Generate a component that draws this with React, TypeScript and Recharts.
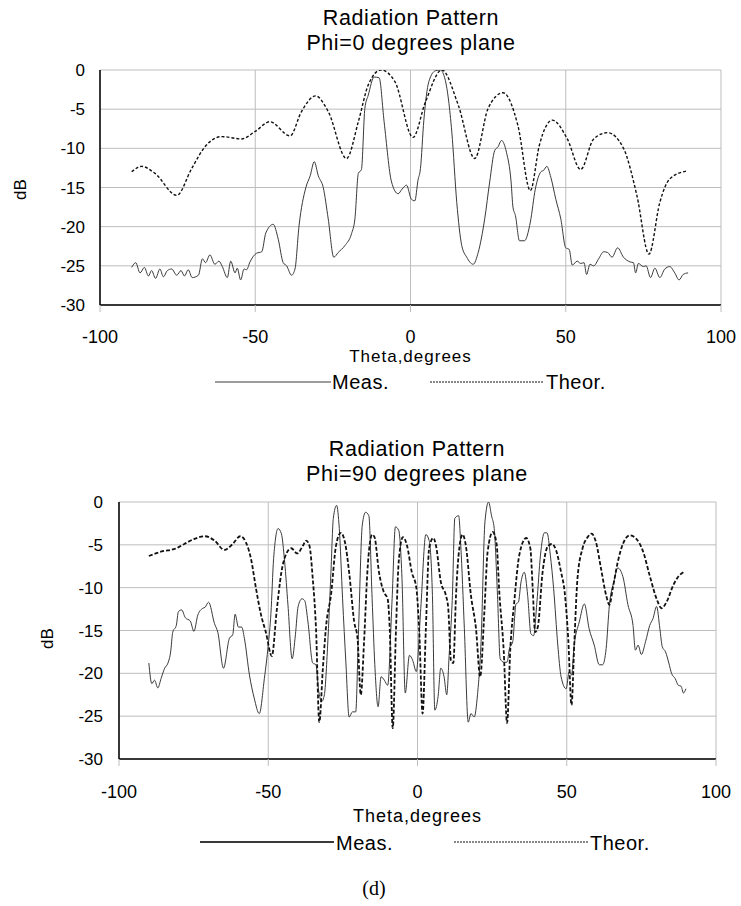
import React from 'react';
import { LineChart, Line, XAxis, YAxis, CartesianGrid, Legend } from 'recharts';

// ---------- data ----------
const xTicks = [-100, -50, 0, 50, 100];
const yTicks = [-30, -25, -20, -15, -10, -5, 0];

const title1 = ['Radiation Pattern', 'Phi=0 degrees plane'];
const title2 = ['Radiation Pattern', 'Phi=90 degrees plane'];
const xTitle = 'Theta,degrees';
const yTitle = 'dB';
const measName = 'Meas.';
const theorName = 'Theor.';
const caption = '(d)';

// Phi = 0 plane, measured
const phi0MeasTheta = [-89.8, -88.5, -87.1, -85.7, -84.4, -83.4, -82.1, -80.7, -79.6, -78.3, -76.9, -75.3, -73.9, -72.8, -71.6, -70.3, -68.3, -67.0, -66.0, -64.6, -63.0, -61.7, -60.6, -59.0, -57.9, -56.5, -55.8, -54.7, -53.6, -52.8, -51.7, -49.6, -47.9, -46.6, -44.2, -42.6, -41.0, -39.9, -38.3, -37.2, -35.9, -33.7, -32.3, -31.0, -29.7, -28.1, -26.5, -24.7, -23.3, -21.1, -19.0, -17.9, -16.8, -15.8, -14.7, -13.6, -11.7, -10.1, -8.5, -6.1, -4.0, -2.7, -1.3, 0.3, 1.4, 2.4, 3.2, 4.3, 5.9, 8.0, 9.6, 11.2, 13.3, 14.9, 16.5, 18.1, 20.2, 21.8, 23.9, 25.5, 27.1, 28.2, 29.3, 30.9, 32.4, 33.0, 33.8, 35.1, 36.7, 38.6, 40.2, 42.0, 42.9, 43.9, 45.2, 46.8, 48.4, 50.0, 51.1, 52.1, 53.7, 54.8, 55.9, 56.7, 57.8, 59.0, 60.6, 62.2, 63.5, 64.9, 66.7, 68.6, 70.7, 71.8, 72.5, 73.4, 75.0, 75.9, 77.3, 78.7, 80.3, 81.9, 83.5, 85.1, 86.5, 87.8, 89.4];
const phi0MeasDb = [-25.2, -24.6, -25.9, -25.2, -26.3, -25.6, -26.6, -25.4, -26.4, -25.6, -25.4, -26.2, -25.6, -26.3, -25.5, -26.5, -26.2, -24.1, -24.6, -23.6, -24.8, -24.4, -25.1, -26.5, -24.4, -25.9, -25.3, -26.8, -25.4, -25.5, -24.5, -23.4, -23.2, -20.8, -19.7, -21.6, -24.6, -25.0, -26.2, -25.4, -19.9, -15.0, -13.5, -11.7, -13.5, -15.0, -19.0, -23.9, -23.3, -22.4, -20.9, -19.0, -13.2, -12.7, -4.9, -3.2, -0.9, -1.0, -6.6, -14.3, -15.8, -15.2, -14.7, -16.5, -16.7, -14.1, -12.6, -6.4, -1.5, -0.1, 0, -1.3, -7.9, -16.9, -22.4, -23.9, -24.8, -23.3, -19.0, -14.3, -10.3, -9.8, -9.0, -10.5, -14.3, -17.5, -18.6, -21.8, -21.8, -19.4, -15.2, -13.0, -12.8, -12.3, -13.7, -16.5, -19.0, -22.7, -22.9, -24.9, -24.4, -24.7, -24.6, -26.1, -24.8, -25.0, -24.1, -23.2, -23.3, -23.9, -22.7, -23.9, -24.5, -24.6, -25.9, -24.7, -25.1, -25.0, -26.5, -25.3, -26.5, -25.4, -25.1, -25.9, -26.8, -26.1, -25.9];

// Phi = 0 plane, theoretical
const phi0TheorTheta = [-89.8, -86.6, -82.3, -75.3, -70.5, -66.2, -60.8, -54.4, -49.9, -45.3, -38.8, -35.1, -30.6, -26.5, -20.6, -16.8, -13.6, -9.5, -5.0, 0.8, 4.8, 10.1, 15.4, 20.7, 25.0, 29.8, 34.6, 38.6, 41.5, 45.7, 50.5, 54.8, 59.0, 63.5, 68.6, 72.9, 76.8, 80.3, 83.5, 88.8];
const phi0TheorDb = [-13.0, -12.3, -13.2, -16.0, -12.6, -9.8, -8.5, -8.8, -7.8, -6.6, -8.4, -5.3, -3.3, -5.3, -11.3, -6.6, -1.9, 0, -1.5, -8.6, -4.1, 0, -4.5, -11.3, -4.9, -2.9, -7.1, -15.4, -9.6, -6.4, -8.8, -12.7, -8.8, -8.0, -10.0, -16.0, -23.5, -16.9, -13.9, -12.9];

// Phi = 90 plane, measured
const phi90MeasTheta = [-90.0, -89.0, -88.1, -87.0, -85.9, -84.7, -83.6, -82.7, -82.0, -80.8, -80.1, -79.0, -77.8, -76.1, -74.9, -73.6, -71.9, -71.2, -70.0, -68.0, -66.9, -65.0, -63.0, -61.9, -61.1, -60.0, -58.9, -58.0, -56.3, -54.7, -53.0, -51.3, -50.0, -49.1, -48.2, -46.7, -45.6, -44.5, -43.4, -42.0, -40.9, -40.0, -38.7, -37.8, -36.7, -35.1, -34.0, -33.2, -32.1, -31.2, -30.1, -29.0, -28.2, -27.1, -26.2, -25.1, -24.0, -22.9, -21.8, -20.7, -19.8, -18.5, -17.4, -16.3, -15.2, -14.3, -13.2, -12.2, -11.1, -10.0, -8.5, -7.4, -6.3, -5.2, -4.1, -2.7, -1.6, -0.4, 1.1, 2.8, 3.9, 5.0, 5.8, 6.9, 7.8, 8.9, 9.8, 10.6, 11.7, 12.5, 13.8, 14.5, 15.7, 17.0, 17.9, 19.0, 20.1, 21.3, 22.6, 23.8, 24.8, 25.7, 26.8, 27.7, 28.9, 30.0, 30.8, 31.9, 33.0, 33.8, 34.7, 35.8, 36.9, 38.0, 38.9, 40.0, 41.2, 42.5, 43.4, 44.5, 45.6, 47.0, 48.1, 49.8, 50.8, 51.6, 52.5, 54.2, 55.9, 57.5, 59.2, 60.9, 62.0, 63.2, 64.3, 65.8, 67.1, 68.8, 70.5, 72.2, 73.0, 73.9, 75.0, 76.4, 77.8, 78.9, 80.1, 81.2, 82.0, 83.1, 84.2, 85.1, 86.3, 87.4, 88.3, 89.1, 89.9];
const phi90MeasDb = [-18.8, -21.2, -20.8, -21.7, -20.6, -19.4, -18.8, -17.5, -15.2, -14.4, -12.8, -12.6, -13.5, -13.9, -15.1, -13.2, -12.4, -12.3, -11.7, -14.2, -15.2, -19.4, -15.9, -15.5, -13.1, -14.6, -14.6, -15.9, -20.2, -22.9, -24.7, -20.6, -16.7, -13.0, -6.6, -3.1, -3.7, -7.0, -12.0, -18.3, -15.5, -12.2, -11.3, -11.5, -14.0, -18.8, -19.0, -21.8, -23.3, -22.5, -16.7, -8.2, -1.9, -0.4, -3.1, -11.3, -18.7, -25.1, -24.5, -24.5, -15.5, -2.7, -1.2, -1.6, -11.3, -19.0, -23.9, -20.4, -20.8, -21.4, -11.3, -2.9, -3.3, -8.9, -22.3, -17.9, -18.5, -19.8, -12.4, -3.8, -4.5, -10.9, -24.3, -22.7, -19.4, -20.4, -22.5, -17.9, -10.9, -1.9, -1.6, -5.1, -14.8, -25.7, -24.7, -25.1, -22.5, -16.3, -2.3, 0, -1.6, -3.1, -10.9, -18.3, -18.7, -18.7, -17.1, -16.3, -11.9, -11.7, -9.3, -8.2, -10.9, -15.4, -15.6, -11.7, -6.2, -3.6, -3.6, -6.2, -10.1, -16.7, -20.4, -21.8, -19.8, -20.2, -16.7, -14.0, -11.9, -14.8, -16.7, -19.0, -19.0, -17.1, -12.0, -9.3, -7.7, -8.7, -12.0, -14.4, -17.3, -16.7, -17.8, -16.3, -14.4, -13.6, -12.2, -14.8, -16.9, -17.5, -18.8, -20.0, -20.6, -21.4, -21.5, -22.3, -21.8];

// Phi = 90 plane, theoretical
const phi90TheorTheta = [-90.0, -85.9, -80.8, -78.1, -74.7, -71.2, -68.0, -64.7, -61.9, -59.4, -57.5, -55.8, -54.1, -52.4, -50.8, -48.8, -47.2, -45.6, -43.9, -42.3, -40.3, -38.4, -37.3, -36.2, -35.1, -34.0, -32.9, -31.7, -30.6, -29.0, -27.3, -25.7, -24.3, -22.9, -21.2, -20.1, -19.0, -17.9, -16.8, -15.2, -14.4, -12.9, -11.3, -10.0, -9.3, -8.3, -7.2, -6.3, -4.9, -3.5, -1.9, -0.4, 0.6, 1.7, 2.8, 3.9, 5.3, 6.2, 7.8, 9.5, 10.3, 11.2, 12.0, 12.9, 14.0, 15.1, 16.2, 17.9, 19.6, 21.0, 22.4, 23.5, 25.2, 26.5, 27.4, 28.9, 30.0, 31.1, 32.4, 34.1, 36.4, 37.8, 38.6, 39.4, 40.3, 41.9, 43.6, 45.0, 46.4, 48.1, 49.3, 50.5, 51.6, 52.5, 53.6, 55.3, 57.0, 58.3, 59.8, 61.5, 63.2, 64.3, 65.4, 67.1, 68.8, 71.1, 73.3, 75.6, 77.8, 80.1, 81.8, 83.4, 85.7, 87.4, 89.1];
const phi90TheorDb = [-6.3, -5.8, -5.4, -4.9, -4.3, -4.0, -4.5, -5.6, -4.9, -4.0, -4.7, -6.6, -10.1, -13.2, -15.2, -18.0, -12.8, -8.2, -6.0, -5.4, -6.0, -5.1, -4.5, -5.1, -8.9, -14.8, -25.7, -19.4, -14.4, -10.9, -5.1, -3.6, -4.7, -8.2, -14.0, -15.9, -22.5, -16.3, -8.2, -3.8, -4.1, -8.2, -10.5, -11.3, -14.8, -26.4, -14.8, -7.0, -4.1, -5.1, -8.2, -10.0, -15.2, -24.7, -14.8, -5.4, -4.2, -5.1, -9.3, -10.9, -12.4, -18.5, -18.8, -10.9, -5.4, -3.8, -5.1, -10.9, -14.8, -20.4, -12.8, -5.8, -3.5, -4.9, -10.5, -17.5, -25.8, -17.1, -11.7, -6.2, -4.2, -5.4, -10.1, -15.2, -14.6, -8.2, -5.2, -4.9, -5.6, -8.2, -10.5, -16.0, -23.7, -16.7, -8.9, -5.4, -4.1, -3.7, -4.7, -7.8, -10.9, -12.0, -10.1, -7.0, -4.9, -3.9, -4.3, -5.8, -8.6, -11.3, -12.4, -11.7, -9.7, -8.7, -8.2];

const toPoints = (theta: number[], db: number[]) => theta.map((t, i) => ({ theta: t, db: db[i] }));
const phi0Meas = toPoints(phi0MeasTheta, phi0MeasDb);
const phi0Theor = toPoints(phi0TheorTheta, phi0TheorDb);
const phi90Meas = toPoints(phi90MeasTheta, phi90MeasDb);
const phi90Theor = toPoints(phi90TheorTheta, phi90TheorDb);

// ---------- styling ----------
const FONT = '"Liberation Sans", Arial, Helvetica, sans-serif';
const GRID = '#bdbdbd';

type LegendItem = { lineX: number; lineW: number; textX: number; width: number; dash?: string };
type ChartCfg = {
  top: number;
  height: number;
  margin: { top: number; right: number; bottom: number; left: number };
  yAxisWidth: number;
  xTickFont: number;
  yTickFont: number;
  xTickMargin: number;
  yTickMargin: number;
  xTitleOffset: number;
  xTitleFont: number;
  xTitleSpacing: number;
  yTitleDx: number;
  yTitleDy: number;
  yTitleFont: number;
  legendTop: number;
  legendFont: number;
  legendLineY: number;
  legendItems: LegendItem[];
  theorWidth: number;
  theorDash: string;
  measWidth: number;
};

const makeLegend = (cfg: ChartCfg) => (props: any) => {
  const payload = props.payload || [];
  return (
    <div style={{ position: 'relative', width: 741, height: 30, fontFamily: FONT, fontSize: cfg.legendFont, color: '#000' }}>
      {payload.map((entry: any, i: number) => {
        const it = cfg.legendItems[i];
        if (!it) return null;
        return (
          <React.Fragment key={String(entry.value)}>
            <svg style={{ position: 'absolute', left: it.lineX, top: 0 }} width={it.lineW} height={30}>
              <line x1={0} x2={it.lineW} y1={cfg.legendLineY} y2={cfg.legendLineY} stroke={entry.color} strokeWidth={it.width} strokeDasharray={it.dash} />
            </svg>
            <span style={{ position: 'absolute', left: it.textX, top: 0, lineHeight: '30px', whiteSpace: 'nowrap', letterSpacing: 0.5 }}>{entry.value}</span>
          </React.Fragment>
        );
      })}
    </div>
  );
};

function PatternChart({ cfg, meas, theor }: { cfg: ChartCfg; meas: any[]; theor: any[] }) {
  return (
    <div style={{ position: 'absolute', left: 0, top: cfg.top }}>
      <LineChart width={741} height={cfg.height} margin={cfg.margin}>
        <CartesianGrid stroke={GRID} strokeWidth={1} />
        <XAxis
          type="number"
          dataKey="theta"
          domain={[-100, 100]}
          ticks={xTicks}
          allowDataOverflow
          height={30}
          axisLine={{ stroke: '#000', strokeWidth: 1.5 }}
          tickLine={{ stroke: GRID }}
          tickSize={7}
          tickMargin={cfg.xTickMargin}
          tick={{ fill: '#000', fontSize: cfg.xTickFont, fontFamily: FONT }}
          label={{
            value: xTitle,
            position: 'bottom',
            offset: cfg.xTitleOffset,
            style: { fill: '#000', fontSize: cfg.xTitleFont, fontFamily: FONT, letterSpacing: cfg.xTitleSpacing },
          }}
        />
        <YAxis
          type="number"
          domain={[-30, 0]}
          ticks={yTicks}
          allowDataOverflow
          width={cfg.yAxisWidth}
          axisLine={{ stroke: '#000', strokeWidth: 1.5 }}
          tickLine={false}
          tickSize={0}
          tickMargin={cfg.yTickMargin}
          tick={{ fill: '#000', fontSize: cfg.yTickFont, fontFamily: FONT }}
          label={{
            value: yTitle,
            content: (p: any) => {
              const vb = p.viewBox || { x: 0, y: 0, width: 0, height: 0 };
              const cx = vb.x + cfg.yTitleDx;
              const cy = vb.y + vb.height / 2 + cfg.yTitleDy;
              return (
                <text x={cx} y={cy} transform={`rotate(-90 ${cx} ${cy})`} textAnchor="middle" dominantBaseline="central" fill="#000" fontSize={cfg.yTitleFont} fontFamily={FONT}>
                  {yTitle}
                </text>
              );
            },
          }}
        />
        <Legend
          layout="horizontal"
          verticalAlign="middle"
          align="center"
          wrapperStyle={{ top: cfg.legendTop, left: 0, width: 741, height: 30 }}
          content={makeLegend(cfg)}
        />
        <Line
          data={meas}
          dataKey="db"
          name={measName}
          type="monotone"
          stroke="#3a3a3a"
          strokeWidth={cfg.measWidth}
          dot={false}
          activeDot={false}
          isAnimationActive={false}
        />
        <Line
          data={theor}
          dataKey="db"
          name={theorName}
          type="monotone"
          stroke="#111"
          strokeWidth={cfg.theorWidth}
          strokeDasharray={cfg.theorDash}
          dot={false}
          activeDot={false}
          isAnimationActive={false}
        />
      </LineChart>
    </div>
  );
}

const cfgTop: ChartCfg = {
  top: 0,
  height: 400,
  margin: { top: 70, right: 20, bottom: 65, left: 40 },
  yAxisWidth: 60,
  xTickFont: 18,
  yTickFont: 17,
  xTickMargin: 18,
  yTickMargin: 15,
  xTitleOffset: 15,
  xTitleFont: 17,
  xTitleSpacing: 1,
  yTitleDx: -20,
  yTitleDy: 2,
  yTitleFont: 17,
  legendTop: 367,
  legendFont: 20,
  legendLineY: 15,
  legendItems: [
    { lineX: 215, lineW: 116, textX: 332, width: 1.2 },
    { lineX: 430, lineW: 114, textX: 546, width: 1, dash: '2 1' },
  ],
  theorWidth: 1.4,
  theorDash: '3 2',
  measWidth: 1,
};

const cfgBottom: ChartCfg = {
  top: 430,
  height: 476,
  margin: { top: 72, right: 25, bottom: 117, left: 59 },
  yAxisWidth: 60,
  xTickFont: 18,
  yTickFont: 17,
  xTickMargin: 19,
  yTickMargin: 16,
  xTitleOffset: 20,
  xTitleFont: 18,
  xTitleSpacing: 1,
  yTitleDx: -12,
  yTitleDy: 8,
  yTitleFont: 17,
  legendTop: 398,
  legendFont: 20,
  legendLineY: 14,
  legendItems: [
    { lineX: 200, lineW: 134, textX: 336, width: 1.8 },
    { lineX: 454, lineW: 134, textX: 590, width: 1, dash: '2 1' },
  ],
  theorWidth: 1.8,
  theorDash: '4 2',
  measWidth: 1,
};

const titleStyle: React.CSSProperties = {
  position: 'absolute',
  width: 400,
  textAlign: 'center',
  fontFamily: FONT,
  fontSize: 21.5,
  letterSpacing: 0.6,
  lineHeight: '25px',
  color: '#000',
  whiteSpace: 'nowrap',
};

export default function App() {
  return (
    <div style={{ position: 'absolute', left: 0, top: 0, width: 741, height: 906, background: '#fff', overflow: 'hidden' }}>
      <div style={{ ...titleStyle, left: 211, top: 6 }}>
        <div>{title1[0]}</div>
        <div>{title1[1]}</div>
      </div>
      <PatternChart cfg={cfgTop} meas={phi0Meas} theor={phi0Theor} />
      <div style={{ ...titleStyle, left: 217, top: 437 }}>
        <div>{title2[0]}</div>
        <div>{title2[1]}</div>
      </div>
      <PatternChart cfg={cfgBottom} meas={phi90Meas} theor={phi90Theor} />
      <div style={{ position: 'absolute', left: 324, top: 878, width: 100, textAlign: 'center', fontFamily: '"Liberation Serif", "Times New Roman", serif', fontSize: 20, lineHeight: '20px', color: '#000' }}>
        {caption}
      </div>
    </div>
  );
}
